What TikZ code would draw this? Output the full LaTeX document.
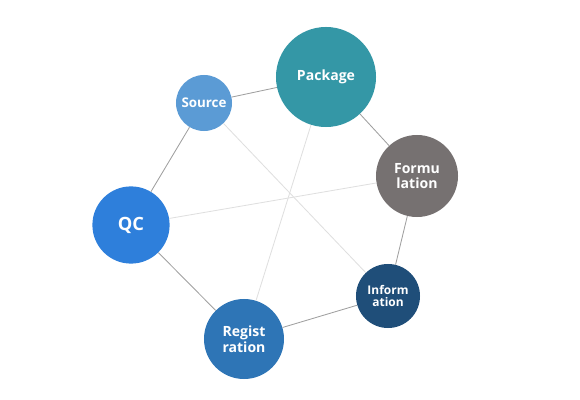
\documentclass[tikz,border=0pt]{standalone}
\usepackage{fontspec}
\setmainfont{Open Sans}
\usepackage{xcolor}
\usetikzlibrary{positioning}

\definecolor{srcblue}{HTML}{5B9BD5}
\definecolor{pkgteal}{HTML}{3497A6}
\definecolor{frmgray}{HTML}{767171}
\definecolor{qcblue}{HTML}{2E7FDB}
\definecolor{regblue}{HTML}{2E75B6}
\definecolor{infnavy}{HTML}{1F4E79}

\begin{document}
\begin{tikzpicture}[
    x=0.025cm, y=-0.025cm,
    bubble/.style={circle, inner sep=0pt, text=white, align=center, font=\bfseries\fontsize{10}{11}\selectfont},
    rim/.style={draw=gray!75, line width=0.6pt},
    spoke/.style={draw=gray!25, line width=0.6pt}
]
    \useasboundingbox (0,0) rectangle (580,400);

    % Bubbles
    \node[bubble, fill=srcblue, minimum size=1.4cm, font=\bfseries\fontsize{9.5}{11}\selectfont] (src) at (204,103) {Source};
    \node[bubble, fill=pkgteal, minimum size=2.5cm] (pkg) at (326,77) {Package};
    \node[bubble, fill=frmgray, minimum size=2.05cm] (frm) at (417,176) {Formu\\lation};
    \node[bubble, fill=infnavy, minimum size=1.6cm, font=\bfseries\fontsize{8.5}{9}\selectfont] (inf) at (388,296) {Inform\\ation};
    \node[bubble, fill=regblue, minimum size=2cm, font=\bfseries\fontsize{10}{11}\selectfont] (reg) at (244,339) {Regist\\ration};
    \node[bubble, fill=qcblue, minimum size=1.93cm, font=\bfseries\fontsize{13}{14}\selectfont] (qc) at (131,225) {QC};

    % Outer ring
    \draw[rim] (src) -- (pkg);
    \draw[rim] (pkg) -- (frm);
    \draw[rim] (frm) -- (inf);
    \draw[rim] (inf) -- (reg);
    \draw[rim] (reg) -- (qc);
    \draw[rim] (qc) -- (src);

    % Cross lines
    \draw[spoke] (src) -- (inf);
    \draw[spoke] (pkg) -- (reg);
    \draw[spoke] (frm) -- (qc);
\end{tikzpicture}
\end{document}
